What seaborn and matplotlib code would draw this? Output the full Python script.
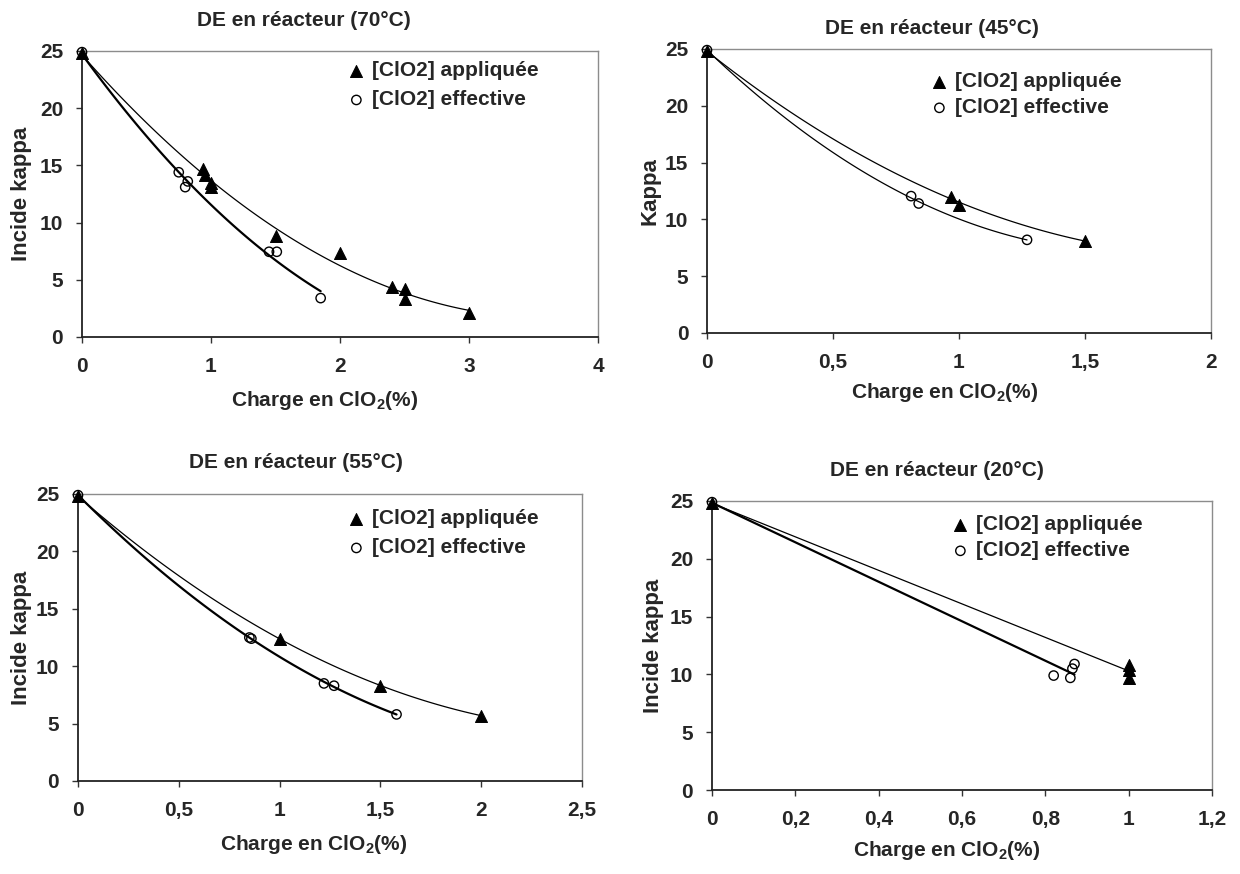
import matplotlib
matplotlib.use("Agg")
import matplotlib.pyplot as plt
import seaborn as sns
from matplotlib.ticker import FuncFormatter, MultipleLocator

sns.set_theme(style="white")
plt.rcParams['font.family'] = ['Liberation Sans', 'DejaVu Sans']
plt.rcParams['font.weight'] = 'bold'
plt.rcParams['mathtext.fontset'] = 'custom'
plt.rcParams['mathtext.bf'] = 'Liberation Sans:bold'
plt.rcParams['mathtext.rm'] = 'Liberation Sans:bold'
plt.rcParams['mathtext.default'] = 'bf'

# --- données ---
# DE en réacteur (70°C)
x70_app = [0, 0.94, 0.95, 1.0, 1.0, 1.5, 2.0, 2.4, 2.5, 2.5, 3.0]
y70_app = [24.8, 14.7, 14.2, 13.5, 13.1, 8.8, 7.3, 4.4, 4.2, 3.3, 2.1]
x70_eff = [0, 0.75, 0.82, 0.80, 1.45, 1.51, 1.85]
y70_eff = [24.9, 14.4, 13.6, 13.1, 7.45, 7.45, 3.4]

# DE en réacteur (45°C)
x45_app = [0, 0.97, 1.0, 1.5]
y45_app = [24.8, 12.0, 11.3, 8.1]
x45_eff = [0, 0.81, 0.84, 1.27]
y45_eff = [24.9, 12.05, 11.4, 8.2]

# DE en réacteur (55°C)
x55_app = [0, 1.0, 1.5, 2.0]
y55_app = [24.8, 12.4, 8.3, 5.7]
x55_eff = [0, 0.85, 0.86, 1.22, 1.27, 1.58]
y55_eff = [24.9, 12.5, 12.4, 8.5, 8.3, 5.8]

# DE en réacteur (20°C)
x20_app = [0, 1.0, 1.0, 1.0]
y20_app = [24.8, 10.8, 10.4, 9.7]
x20_eff = [0, 0.82, 0.86, 0.865, 0.87]
y20_eff = [24.9, 9.9, 9.7, 10.5, 10.9]

W, H = 1240, 874
fig = plt.figure(figsize=(W / 100, H / 100), dpi=100)


def comma(v, pos):
    return f"{v:g}".replace('.', ',')


def fx(px):
    return px / W


def fy(py):
    return 1 - py / H


def panel(box, title, title_xy, ylabel, ylabel_x, xlabel_xy, xmax, xstep,
          xa, ya, xe, ye, order_a, order_e, lw_e, leg_xy, leg_sp):
    l, r, t, b = box
    ax = fig.add_axes([fx(l), fy(b), (r - l) / W, (b - t) / H])

    # courbes de tendance
    sns.regplot(x=xa, y=ya, order=order_a, ci=None, scatter=False, ax=ax,
                line_kws=dict(color='black', lw=0.9))
    sns.regplot(x=xe, y=ye, order=order_e, ci=None, scatter=False, ax=ax,
                line_kws=dict(color='black', lw=lw_e))

    # points
    sns.scatterplot(x=xa, y=ya, marker='^', s=75, color='black',
                    edgecolor='black', clip_on=False, zorder=5, ax=ax,
                    label='[ClO2] appliquée')
    sns.scatterplot(x=xe, y=ye, marker='o', s=45, color='black',
                    facecolor='none', edgecolor='black', linewidth=1,
                    clip_on=False, zorder=5, ax=ax, label='[ClO2] effective')

    ax.set_xlim(0, xmax)
    ax.set_ylim(0, 25)
    ax.xaxis.set_major_locator(MultipleLocator(xstep))
    ax.yaxis.set_major_locator(MultipleLocator(5))
    ax.xaxis.set_major_formatter(FuncFormatter(comma))
    ax.yaxis.set_major_formatter(FuncFormatter(comma))
    ax.tick_params(axis='both', direction='out', length=4.5, width=1,
                   color='#333333', labelsize=15, bottom=True, left=True)
    ax.tick_params(axis='x', pad=10)
    ax.tick_params(axis='y', pad=9)
    for lab in ax.get_xticklabels() + ax.get_yticklabels():
        lab.set_fontweight('bold')

    for side in ['left', 'bottom']:
        ax.spines[side].set_color('#222222')
        ax.spines[side].set_linewidth(1.3)
    for side in ['top', 'right']:
        ax.spines[side].set_color('#8c8c8c')
        ax.spines[side].set_linewidth(1)

    ax.set_xlabel(r"Charge en ClO$_2$(%)", fontsize=15, fontweight='bold',
                  ha='center', va='center')
    ax.xaxis.set_label_coords(fx(xlabel_xy[0]), fy(xlabel_xy[1]),
                              transform=fig.transFigure)
    ax.set_ylabel(ylabel, fontsize=16, fontweight='bold', ha='center', va='center')
    ax.yaxis.set_label_coords(fx(ylabel_x), fy((t + b) / 2),
                              transform=fig.transFigure)

    fig.text(fx(title_xy[0]), fy(title_xy[1]), title, ha='center', va='center',
             fontsize=15, fontweight='bold')

    leg = ax.legend(loc='upper left', bbox_to_anchor=(fx(leg_xy[0]), fy(leg_xy[1])),
                    bbox_transform=fig.transFigure, frameon=False,
                    fontsize=15, handletextpad=0.3, borderaxespad=0, borderpad=0,
                    labelspacing=leg_sp, handlelength=0.9)
    for txt in leg.get_texts():
        txt.set_fontweight('bold')
    return ax


panel((82, 598, 51, 337), "DE en réacteur (70°C)", (304, 20), "Incide kappa", 21,
      (325, 400), 4, 1, x70_app, y70_app, x70_eff, y70_eff, 2, 2, 1.6,
      (347, 61), 0.5)
panel((707, 1211, 49, 333), "DE en réacteur (45°C)", (932, 29), "Kappa", 650,
      (945, 393), 2, 0.5, x45_app, y45_app, x45_eff, y45_eff, 2, 2, 0.9,
      (930, 72), 0.35)
panel((78, 582, 494, 781), "DE en réacteur (55°C)", (296, 463), "Incide kappa", 21,
      (314, 844), 2.5, 0.5, x55_app, y55_app, x55_eff, y55_eff, 2, 2, 1.6,
      (347, 509), 0.5)
panel((712, 1212, 501, 790), "DE en réacteur (20°C)", (937, 470), "Incide kappa", 654,
      (947, 851), 1.2, 0.2, x20_app, y20_app, x20_eff, y20_eff, 1, 1, 1.6,
      (951, 515), 0.35)

fig.savefig("out.png", dpi=100, facecolor='white')
